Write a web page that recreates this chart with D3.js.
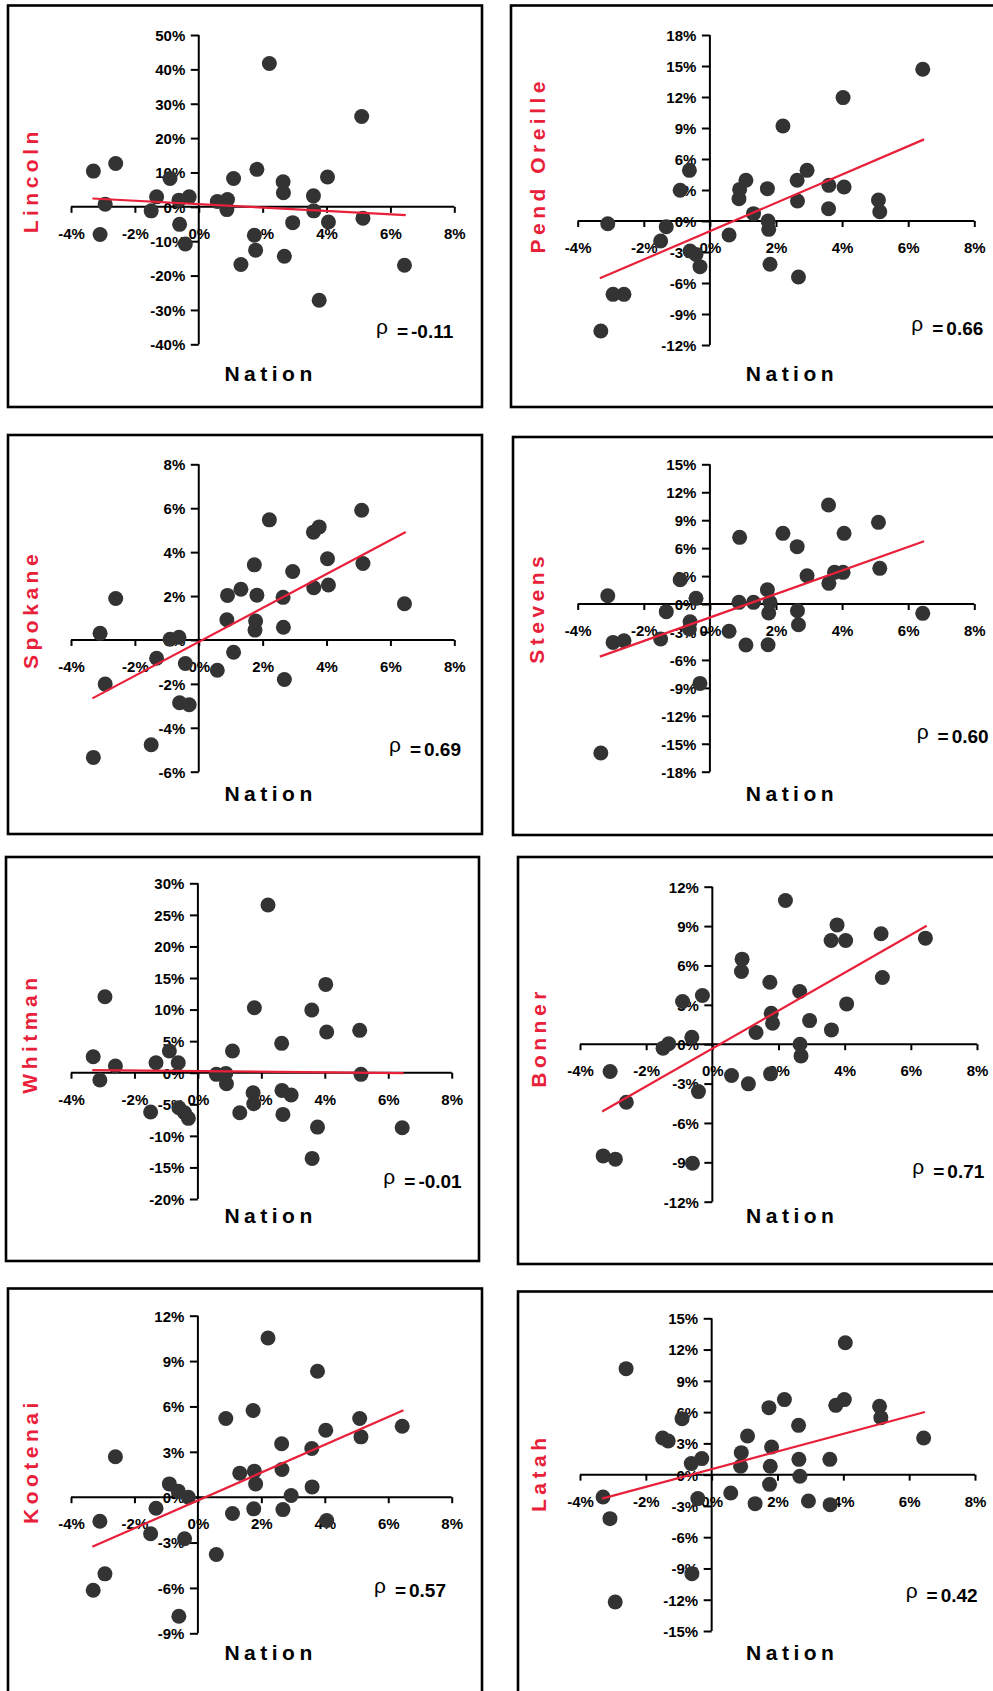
<!DOCTYPE html>
<html>
<head>
<meta charset="utf-8">
<script src="https://cdn.jsdelivr.net/npm/d3@7"></script>
<style>
  html, body { margin: 0; padding: 0; background: #fff; }
  svg { display: block; }
  text { font-family: "Liberation Sans", Arial, sans-serif; }
</style>
</head>
<body>
<svg id="chart" width="993" height="1691"></svg>
<script>
// ---------------- DATA ----------------
const counties = ["Lincoln", "Pend Oreille", "Spokane", "Stevens", "Whitman", "Bonner", "Kootenai", "Latah"];

// Nation annual growth (%), shared x values
const nation = [-3.30, -3.09, -2.93, -2.60, -1.49, -1.32, -0.90, -0.62, -0.60, -0.42, -0.30,
  0.58, 0.88, 0.90, 1.09, 1.32, 1.74, 1.76, 1.78, 1.82, 2.21, 2.64, 2.65, 2.68, 2.94,
  3.59, 3.60, 3.77, 4.03, 4.06, 5.10, 5.14, 6.44];

// County growth (%), aligned with nation; null = hidden under another point
const lincoln = [10.4, -8.06, 0.78, 12.6, -1.17, 2.9, 8.25, 1.94, -5.1, -10.8, 2.9,
  1.55, -0.8, 2.1, 8.25, -16.8, -8.25, null, -12.6, 10.9, 41.7, 7.3, 4.1, -14.4, -4.6,
  3.2, -1.17, -27.2, 8.7, -4.4, 26.3, -3.3, -17.0];
const pendOreille = [-10.65, -0.26, -7.10, -7.10, -1.94, -0.55, 2.97, 4.90, -2.90, -3.23, -4.42,
  -1.35, 2.16, 3.06, 3.94, 0.71, 3.13, 0.0, -0.81, -4.19, 9.19, 3.94, 1.94, -5.42, 4.90,
  1.19, 3.45, null, 11.94, 3.29, 2.03, 0.90, 14.68];
const spokane = [-5.35, 0.30, -2.01, 1.89, -4.77, -0.83, 0.03, 0.12, -2.86, -1.07, -2.95,
  -1.38, 0.92, 2.03, -0.56, 2.31, 3.42, 0.45, 0.86, 2.04, 5.47, 1.94, 0.58, -1.80, 3.12,
  4.91, 2.38, 5.15, 3.70, 2.50, 5.91, 3.48, 1.65];
const stevens = [-16.0, 0.89, -4.12, -3.94, -3.76, -0.82, 2.61, -2.68, -1.90, 0.61, -8.52,
  -2.93, 0.18, 7.16, -4.40, 0.18, 1.54, -4.37, -0.97, 0.18, 7.59, 6.16, -0.72, -2.22, 3.04,
  10.63, 2.22, 3.40, 3.40, 7.59, 8.77, 3.83, -1.00];
const whitman = [2.53, -1.16, 12.04, 1.06, -6.23, 1.58, 3.43, 1.58, -5.54, -6.34, -7.23,
  -0.26, -0.11, -1.74, 3.43, -6.34, -3.17, -4.91, 10.30, null, 26.56, 4.65, -2.80, -6.60, -3.54,
  9.93, -13.57, -8.61, 13.99, 6.44, 6.71, -0.26, -8.71];
const bonner = [-8.51, -2.08, -8.76, -4.42, -0.30, 0.03, 3.25, 0.53, -9.07, -3.61, 3.71,
  -2.39, 5.54, 6.48, -3.02, 0.89, 4.72, -2.26, 2.36, 1.60, 10.95, 4.01, 0.0, -0.89, 1.80,
  7.90, 1.09, 9.09, 7.90, 3.07, 8.41, 5.08, 8.08];
const kootenai = [-6.15, -1.59, -5.07, 2.67, -2.42, -0.73, 0.88, 0.40, -7.87, -2.75, 0.0,
  -3.79, 5.20, null, -1.08, 1.59, 5.73, -0.77, 1.72, 0.88, 10.53, 3.53, 1.83, -0.82, 0.11,
  3.22, 0.68, 8.33, 4.43, -1.54, 5.20, 3.99, 4.69];
const latah = [-2.14, -4.22, -12.22, 10.17, 3.52, 3.23, 5.37, 1.06, -9.50, -2.30, 1.54,
  -1.76, 0.80, 2.11, 3.71, -2.78, 6.43, -0.93, 0.80, 2.65, 7.20, 4.73, 1.47, -0.16, -2.53,
  1.47, -2.88, 6.65, 7.20, 12.66, 6.56, 5.47, 3.52];

const countyValues = [lincoln, pendOreille, spokane, stevens, whitman, bonner, kootenai, latah];

const rho = ["-0.11", "0.66", "0.69", "0.60", "-0.01", "0.71", "0.57", "0.42"];

// Trend lines: x extent and y at each end, per county
const trendX = [-3.33, 6.48];
const trendStart = [2.43, -5.55, -2.66, -5.65, 0.42, -5.13, -3.28, -2.30];
const trendEnd = [-2.43, 7.90, 4.92, 6.73, -0.05, 9.02, 5.75, 6.01];

// Tick labels
const xTicks = [-4, -2, 0, 2, 4, 6, 8];
const yTickMax = [50, 18, 8, 15, 30, 12, 12, 15];
const yTickMin = [-40, -12, -6, -18, -20, -12, -9, -15];
const yTickStep = [10, 3, 2, 3, 5, 3, 3, 3];

// ---------------- LAYOUT (pixels) ----------------
const layout = [
  { box: [8, 5.5, 482, 407],     xr: [71, 454.3],   yr: [35, 344.3],     nat: [268.3, 373],    lab: [30.5, 182.5],  rho: [453.3, 337.7] },
  { box: [511, 5.5, 1005, 407],  xr: [577.7, 974.3], yr: [35, 345],      nat: [789.7, 373],    lab: [537.7, 167.5], rho: [983.3, 335] },
  { box: [8, 435, 482, 834],     xr: [71, 454.3],   yr: [464.3, 771.7],  nat: [268.3, 793.3],  lab: [30.5, 611.7],  rho: [461, 756] },
  { box: [513, 437, 1005, 835],  xr: [577.7, 974.3], yr: [464.3, 771.7], nat: [789.7, 793.3],  lab: [536, 610],     rho: [988.7, 742.7] },
  { box: [6, 857, 479, 1261],    xr: [71, 451.7],   yr: [883.3, 1199],   nat: [268.3, 1215.7], lab: [29.5, 1035.8], rho: [461.7, 1188.3] },
  { box: [518, 857, 1005, 1264], xr: [580, 977],    yr: [886.7, 1201.7], nat: [790, 1215.7],   lab: [538.8, 1039.7], rho: [984.3, 1178.3] },
  { box: [8, 1288.5, 482, 1710], xr: [71, 451.7],   yr: [1315.7, 1633.3], nat: [268.3, 1652.7], lab: [30.5, 1463.3], rho: [446, 1596.7] },
  { box: [518, 1291.5, 1005, 1710], xr: [580, 975], yr: [1318.3, 1631],  nat: [790, 1652.7],   lab: [538.8, 1475],  rho: [977.7, 1601.7] }
];

const RED = "#e8203a";
const DOT = "#333333";
const svg = d3.select("#chart");

counties.forEach((name, i) => {
  const L = layout[i];
  const g = svg.append("g");

  // panel frame
  g.append("rect")
    .attr("x", L.box[0]).attr("y", L.box[1])
    .attr("width", L.box[2] - L.box[0]).attr("height", L.box[3] - L.box[1])
    .attr("fill", "none").attr("stroke", "#000").attr("stroke-width", 2.6);

  const x = d3.scaleLinear().domain([-4, 8]).range(L.xr);
  const y = d3.scaleLinear().domain([yTickMax[i], yTickMin[i]]).range(L.yr);
  const yTicks = d3.range(yTickMin[i], yTickMax[i] + yTickStep[i] / 2, yTickStep[i]);

  const x0 = x(0), y0 = y(0);

  // X axis (crossing at y = 0)
  const xAxis = d3.axisBottom(x).tickValues(xTicks).tickSize(6).tickSizeOuter(0)
    .tickFormat(d => d + "%");
  const gx = g.append("g").attr("transform", `translate(0,${y0})`).call(xAxis);
  gx.select(".domain").attr("stroke", "#000").attr("stroke-width", 2)
    .attr("d", `M${x(-4)},0H${x(8)}`);
  gx.selectAll(".tick line").attr("stroke", "#000").attr("stroke-width", 2);
  gx.selectAll(".tick text").attr("y", 32).attr("dy", 0)
    .attr("font-size", 15).attr("font-weight", "bold").attr("fill", "#000")
    .attr("font-family", '"Liberation Sans", Arial, sans-serif');

  // Y axis (crossing at x = 0)
  const yAxis = d3.axisLeft(y).tickValues(yTicks).tickSize(8).tickSizeOuter(0)
    .tickFormat(d => d + "%");
  const gy = g.append("g").attr("transform", `translate(${x0},0)`).call(yAxis);
  gy.select(".domain").attr("stroke", "#000").attr("stroke-width", 2)
    .attr("d", `M0,${y(yTickMax[i])}V${y(yTickMin[i])}`);
  gy.selectAll(".tick line").attr("stroke", "#000").attr("stroke-width", 2);
  gy.selectAll(".tick text").attr("x", -13.5).attr("dy", "0.36em")
    .attr("font-size", 15).attr("font-weight", "bold").attr("fill", "#000")
    .attr("font-family", '"Liberation Sans", Arial, sans-serif');

  // Axis title "Nation"
  g.append("text")
    .attr("x", L.nat[0] + 2.25).attr("y", L.nat[1]).attr("dy", "0.36em")
    .attr("text-anchor", "middle").attr("font-size", 21).attr("font-weight", "bold")
    .attr("letter-spacing", 4.5).attr("fill", "#000")
    .text("Nation");

  // County label (rotated)
  g.append("text")
    .attr("transform", `translate(${L.lab[0]},${L.lab[1] - 2.25}) rotate(-90)`)
    .attr("dy", "0.36em")
    .attr("text-anchor", "middle").attr("font-size", 21).attr("font-weight", "bold")
    .attr("letter-spacing", 4.5).attr("fill", RED)
    .text(name);

  // Points
  const pts = nation.map((nx, k) => ({ nx, cy: countyValues[i][k] })).filter(d => d.cy !== null);
  g.append("g").selectAll("circle").data(pts).join("circle")
    .attr("cx", d => x(d.nx)).attr("cy", d => y(d.cy))
    .attr("r", 7.5).attr("fill", DOT);

  // Trend line
  const line = d3.line().x(d => x(d[0])).y(d => y(d[1]));
  g.append("path")
    .datum([[trendX[0], trendStart[i]], [trendX[1], trendEnd[i]]])
    .attr("d", line).attr("fill", "none").attr("stroke", RED).attr("stroke-width", 2.2);

  // Correlation label
  const t = g.append("text")
    .attr("x", L.rho[0]).attr("y", L.rho[1])
    .attr("text-anchor", "end").attr("fill", "#000");
  t.append("tspan").attr("font-size", 21).attr("font-weight", "normal").attr("dy", -4).text("ρ");
  t.append("tspan").attr("font-size", 19).attr("font-weight", "bold").attr("dy", 4).attr("dx", 9).text("=");
  t.append("tspan").attr("font-size", 19).attr("font-weight", "bold").attr("dx", 3).text(rho[i]);
});
</script>
</body>
</html>
